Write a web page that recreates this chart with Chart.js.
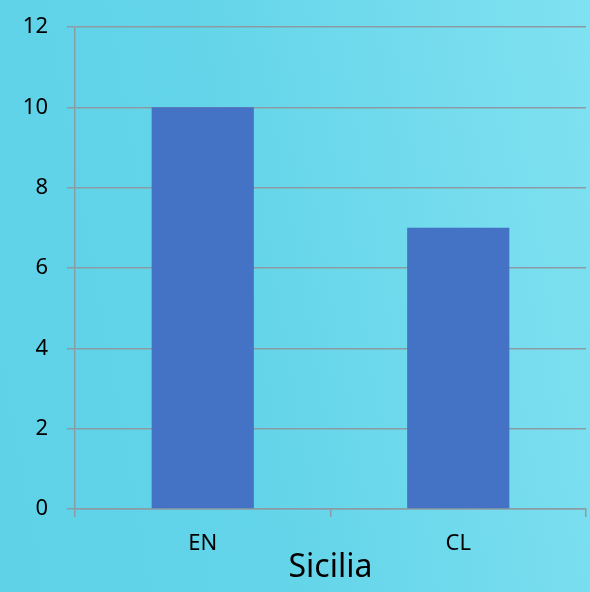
<!DOCTYPE html>
<html>
<head>
<meta charset="utf-8">
<script src="https://cdn.jsdelivr.net/npm/chart.js"></script>
<style>
html,body{margin:0;padding:0;}
body{width:590px;height:592px;background:linear-gradient(80deg,#5fd2e8 0%,#63d4e9 40%,#80e1f1 100%);overflow:hidden;}
#wrap{position:relative;width:590px;height:592px;}
</style>
</head>
<body>
<div id="wrap"><canvas id="c"></canvas></div>
<script>
const categories = ["EN", "CL"];
const values = [10, 7];
const yTicks = [0, 2, 4, 6, 8, 10, 12];
const axisTitle = "Sicilia";

const gridColor = "#8b9ba3";
const fontFamily = "'Noto Sans', 'DejaVu Sans', sans-serif";

new Chart(document.getElementById('c'), {
  type: 'bar',
  data: {
    labels: categories,
    datasets: [{
      data: values,
      backgroundColor: '#4472C4',
      borderWidth: 0,
      barPercentage: 0.4,
      categoryPercentage: 1
    }]
  },
  options: {
    responsive: true,
    maintainAspectRatio: false,
    animation: false,
    layout: { padding: { left: 0, right: 4, top: 27, bottom: 0 } },
    plugins: { legend: { display: false }, tooltip: { enabled: false } },
    scales: {
      x: {
        grid: { offset: true, drawOnChartArea: false, drawTicks: true, tickLength: 8, color: gridColor, lineWidth: 1.5 },
        border: { color: gridColor, width: 1.5 },
        ticks: { color: '#000', font: { family: fontFamily, size: 22 }, padding: 14 },
        title: { display: true, text: axisTitle, color: '#000', font: { family: fontFamily, size: 32 }, padding: { top: 0, bottom: 5 } },
        afterFit: (s) => { s.height = 83; s.paddingLeft = 0; s.paddingRight = 0; }
      },
      y: {
        min: 0, max: 12,
        afterBuildTicks: (s) => { s.ticks = yTicks.map(v => ({ value: v })); },
        grid: { color: gridColor, lineWidth: 1.5, tickLength: 8 },
        border: { color: gridColor, width: 1.5 },
        ticks: { color: '#000', font: { family: fontFamily, size: 22 }, padding: 19 },
        afterFit: (s) => { s.width = 75; s.paddingTop = 0; s.paddingBottom = 0; }
      }
    }
  }
});
</script>
</body>
</html>
